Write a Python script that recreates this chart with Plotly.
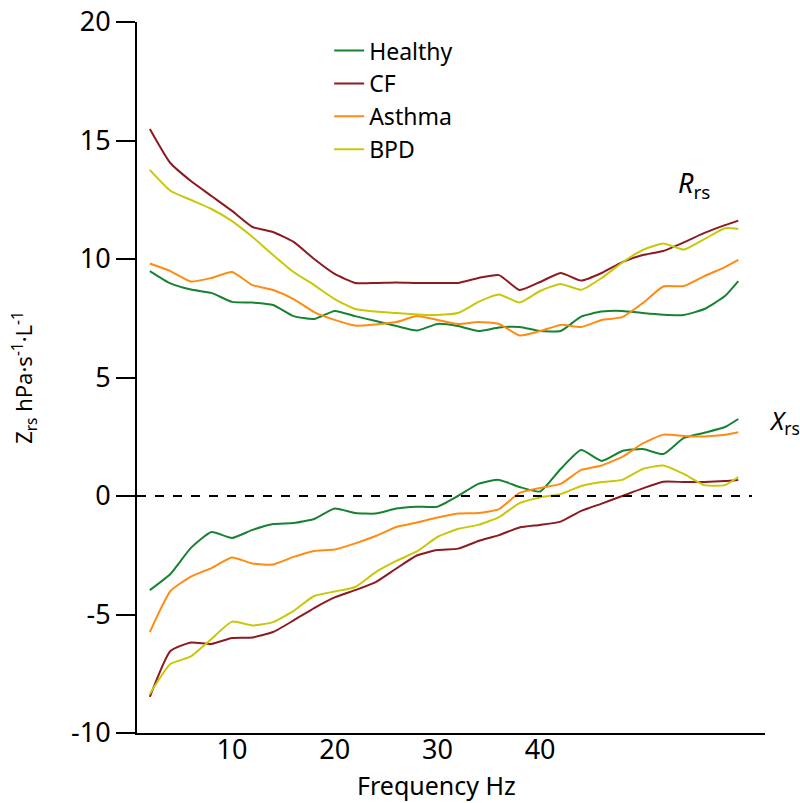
import plotly.graph_objects as go

freq = [2, 4, 6, 8, 10, 12, 14, 16, 18, 20, 22, 24, 26, 28, 30, 32, 34, 36, 38, 40,
        42, 44, 46, 48, 50, 52, 54, 56, 58, 59.3]

# Resistance (Rrs)
r_healthy = [9.49, 8.97, 8.71, 8.57, 8.19, 8.16, 8.06, 7.59, 7.47, 7.81, 7.59, 7.38, 7.17, 6.98, 7.26,
             7.17, 6.96, 7.11, 7.13, 6.96, 6.96, 7.57, 7.78, 7.81, 7.72, 7.65, 7.64, 7.89, 8.44, 9.07]
r_cf = [15.49, 14.05, 13.29, 12.66, 12.03, 11.35, 11.14, 10.72, 10.0, 9.37, 8.99, 8.99, 9.01, 8.99, 8.99,
        8.99, 9.2, 9.32, 8.69, 9.03, 9.41, 9.09, 9.41, 9.87, 10.17, 10.34, 10.7, 11.1, 11.43, 11.62]
r_asthma = [9.81, 9.49, 9.05, 9.2, 9.45, 8.9, 8.69, 8.31, 7.76, 7.43, 7.19, 7.24, 7.34, 7.59, 7.43,
            7.26, 7.34, 7.26, 6.77, 6.96, 7.22, 7.13, 7.43, 7.55, 8.14, 8.84, 8.86, 9.28, 9.66, 9.96]
r_bpd = [13.76, 12.88, 12.49, 12.11, 11.6, 10.93, 10.17, 9.45, 8.9, 8.31, 7.89, 7.78, 7.72, 7.66, 7.64,
         7.72, 8.19, 8.5, 8.16, 8.65, 8.95, 8.7, 9.2, 9.85, 10.38, 10.65, 10.4, 10.84, 11.3, 11.27]

# Reactance (Xrs)
x_healthy = [-3.97, -3.29, -2.19, -1.52, -1.77, -1.43, -1.18, -1.14, -0.97, -0.53, -0.72, -0.74, -0.53,
             -0.45, -0.45, 0.0, 0.51, 0.68, 0.38, 0.19, 1.14, 1.94, 1.48, 1.9, 1.98, 1.77, 2.45, 2.67, 2.91, 3.25]
x_cf = [-8.48, -6.54, -6.18, -6.24, -5.99, -5.97, -5.74, -5.25, -4.73, -4.28, -3.97, -3.63, -3.06, -2.51,
        -2.28, -2.22, -1.9, -1.65, -1.33, -1.22, -1.08, -0.63, -0.32, 0.0, 0.32, 0.6, 0.59, 0.59, 0.63, 0.68]
x_asthma = [-5.74, -4.01, -3.4, -3.04, -2.6, -2.85, -2.89, -2.57, -2.32, -2.26, -2.0, -1.69, -1.31, -1.12,
            -0.91, -0.74, -0.72, -0.55, 0.13, 0.34, 0.51, 1.1, 1.29, 1.65, 2.22, 2.59, 2.53, 2.51, 2.58, 2.69]
x_bpd = [-8.35, -7.09, -6.77, -6.03, -5.3, -5.46, -5.32, -4.85, -4.22, -4.03, -3.84, -3.21, -2.74, -2.34,
         -1.73, -1.39, -1.22, -0.89, -0.3, -0.06, 0.08, 0.42, 0.59, 0.68, 1.14, 1.29, 0.93, 0.46, 0.46, 0.8]

names = ["Healthy", "CF", "Asthma", "BPD"]
colors = ["#178232", "#8c1a22", "#ff8c12", "#c8c80a"]
r_series = [r_healthy, r_cf, r_asthma, r_bpd]
x_series = [x_healthy, x_cf, x_asthma, x_bpd]

y_tickvals = [-10, -5, 0, 5, 10, 15, 20]
y_ticktext = ["-10", "-5", "0", "5", "10", "15", "20"]
x_tickvals = [10, 20, 30, 40]
x_ticktext = ["10", "20", "30", "40"]

FONT = "Noto Sans"
L, R, T, B = 137, 35, 22, 70
PW, PH = 800 - L - R, 803 - T - B


def px_x(p):
    return (p - L) / PW


def px_y(p):
    return (803 - B - p) / PH


fig = go.Figure()
for name, col, rv, xv in zip(names, colors, r_series, x_series):
    fig.add_trace(go.Scatter(x=freq, y=rv, mode="lines", name=name,
                             line=dict(color=col, width=2, shape="spline", smoothing=0.5),
                             legendgroup=name))
    fig.add_trace(go.Scatter(x=freq, y=xv, mode="lines", name=name, showlegend=False,
                             line=dict(color=col, width=2, shape="spline", smoothing=0.5),
                             legendgroup=name))

fig.add_shape(type="line", xref="paper", yref="y", x0=0, x1=px_x(752), y0=0, y1=0,
              line=dict(color="black", width=2, dash="dash"))

fig.add_annotation(xref="paper", yref="paper", x=px_x(676), y=px_y(162), xanchor="left",
                   text="<i>R</i><sub>rs</sub>", showarrow=False,
                   font=dict(family=FONT, size=27, color="black"))
fig.add_annotation(xref="paper", yref="paper", x=px_x(767), y=px_y(421), xanchor="left",
                   text="<i>X</i><sub>rs</sub>", showarrow=False,
                   font=dict(family=FONT, size=25, color="black"))
fig.add_annotation(xref="paper", yref="paper", x=px_x(436), y=px_y(785), yanchor="middle",
                   text="Frequency Hz", showarrow=False,
                   font=dict(family=FONT, size=25, color="black"))

fig.update_layout(
    width=800, height=803,
    margin=dict(l=L, r=R, t=T, b=B, autoexpand=False),
    paper_bgcolor="white", plot_bgcolor="white",
    font=dict(family=FONT, size=27, color="black"),
    showlegend=True,
    legend=dict(x=0.306, y=0.99, xanchor="left", yanchor="top",
                bgcolor="rgba(0,0,0,0)", font=dict(size=23), tracegroupgap=0),
    xaxis=dict(range=[0.75, 61.9], tickvals=x_tickvals, ticktext=x_ticktext, ticks="",
               showgrid=False, automargin=False, ticklabelstandoff=-8,
               zeroline=False, showline=True, linecolor="black", linewidth=2),
    yaxis=dict(range=[-10, 20], tickvals=y_tickvals, ticktext=y_ticktext, ticks="outside",
               ticklen=19, tickwidth=2, tickcolor="black", showgrid=False, zeroline=False,
               showline=True, linecolor="black", linewidth=2, automargin=False,
               title=dict(text="Z<sub>rs</sub> hPa·s<sup>-1</sup>·L<sup>-1</sup>", font=dict(size=22),
                          standoff=32)),
)

fig.write_html("out.html")
